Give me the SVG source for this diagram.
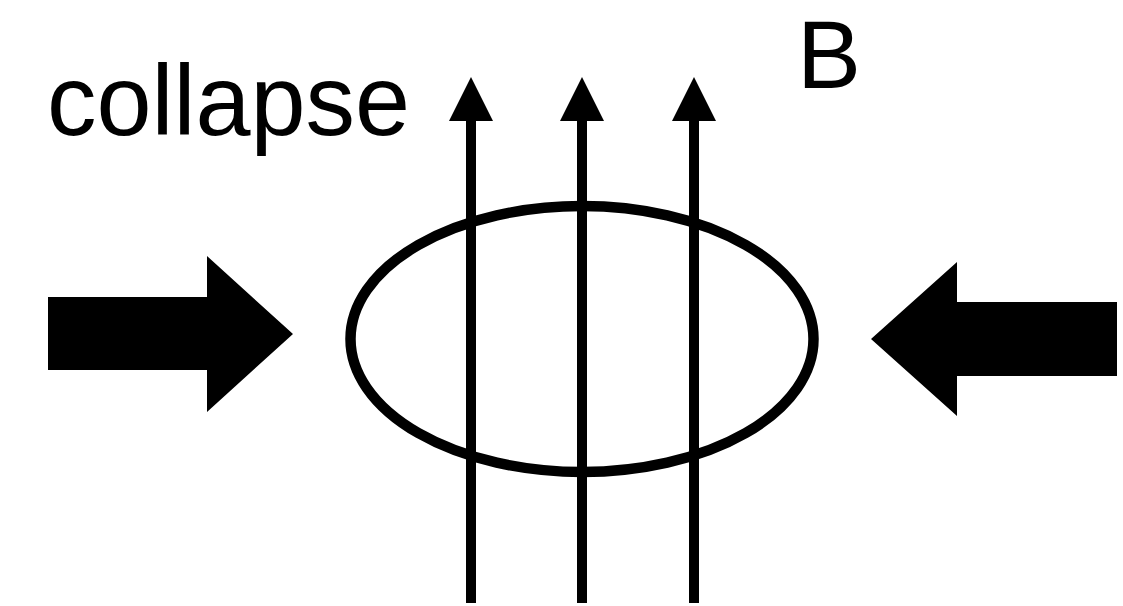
<svg xmlns="http://www.w3.org/2000/svg" width="1123" height="606" viewBox="0 0 1123 606">
  <style>
    .lbl { font-family: "Comic Sans MS", "Liberation Sans", "DejaVu Sans", sans-serif; fill: #000; }
    .field { stroke: #000; stroke-width: 10; fill: none; }
    .block { fill: #000; stroke: none; }
  </style>
  <defs>
    <marker id="head" viewBox="0 0 44 44" refX="0" refY="22" markerWidth="44" markerHeight="44" markerUnits="userSpaceOnUse" orient="auto">
      <path d="M0,0 L44,22 L0,44 Z" fill="#000"/>
    </marker>
  </defs>
  <rect width="1123" height="606" fill="#fff"/>
  <g id="loop">
    <ellipse cx="582" cy="339" rx="231.5" ry="133" fill="none" stroke="#000" stroke-width="10.5"/>
  </g>
  <g id="connectors">
    <line class="field" x1="471" y1="603" x2="471" y2="121" marker-end="url(#head)"/>
    <line class="field" x1="582" y1="603" x2="582" y2="121" marker-end="url(#head)"/>
    <line class="field" x1="694" y1="603" x2="694" y2="121" marker-end="url(#head)"/>
  </g>
  <g id="push-left">
    <polygon class="block" points="48,297 207,297 207,256 293,334 207,412 207,370 48,370"/>
  </g>
  <g id="push-right">
    <polygon class="block" points="1117,302 957,302 957,262 871,339 957,416 957,376 1117,376"/>
  </g>
  <g id="label-collapse">
    <text class="lbl" x="47" y="135" font-size="100" textLength="363" lengthAdjust="spacingAndGlyphs">collapse</text>
  </g>
  <g id="label-B">
    <text class="lbl" x="797" y="88" font-size="96">B</text>
  </g>
</svg>
